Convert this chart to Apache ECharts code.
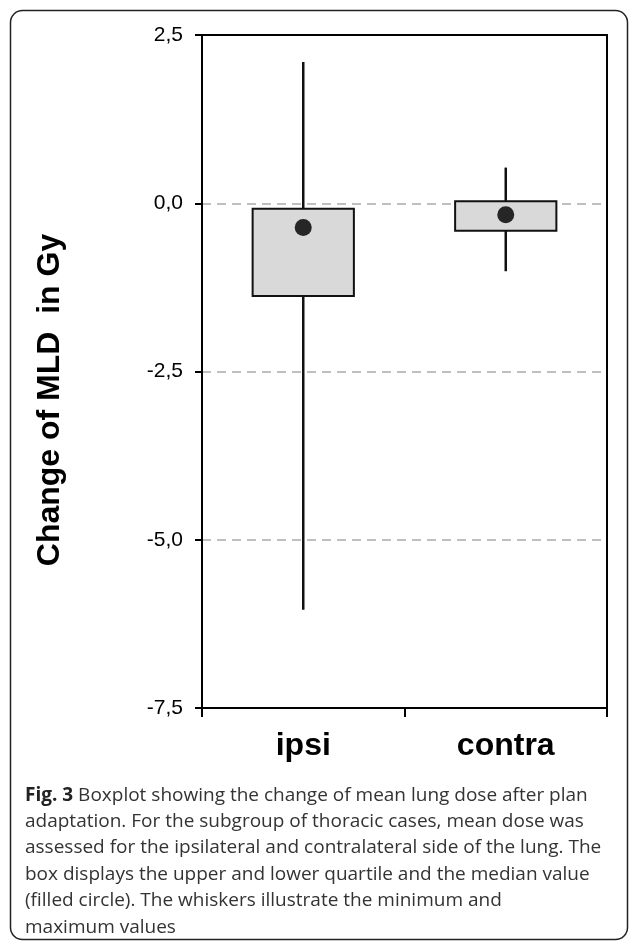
<!DOCTYPE html>
<html>
<head>
<meta charset="utf-8">
<script src="https://cdn.jsdelivr.net/npm/echarts@6/dist/echarts.min.js"></script>
<style>
  html, body { margin: 0; padding: 0; background: #fff; }
  #chart { width: 630px; height: 944px; }
</style>
</head>
<body>
<div id="chart"></div>
<script>
const categories = ['ipsi', 'contra'];
const minValues = [-6.04, -1.01];
const q1Values = [-1.38, -0.41];
const medianValues = [-0.36, -0.17];
const q3Values = [-0.08, 0.03];
const maxValues = [2.1, 0.53];
const yMin = -7.5;
const yMax = 2.5;
const yStep = 2.5;

const captionLines = [
  '{b|Fig. 3} Boxplot showing the change of mean lung dose after plan',
  'adaptation. For the subgroup of thoracic cases, mean dose was',
  'assessed for the ipsilateral and contralateral side of the lung. The',
  'box displays the upper and lower quartile and the median value',
  '(filled circle). The whiskers illustrate the minimum and',
  'maximum values'
];

const boxData = categories.map((c, i) => [i, minValues[i], q1Values[i], medianValues[i], q3Values[i], maxValues[i]]);

const chart = echarts.init(document.getElementById('chart'));

function renderBox(params, api) {
  const idx = api.value(0);
  const band = api.size([1, 0])[0];
  const half = band * 0.25;
  const pMin = api.coord([idx, api.value(1)]);
  const pQ1 = api.coord([idx, api.value(2)]);
  const pMed = api.coord([idx, api.value(3)]);
  const pQ3 = api.coord([idx, api.value(4)]);
  const pMax = api.coord([idx, api.value(5)]);
  return {
    type: 'group',
    children: [
      {
        type: 'line',
        shape: { x1: pMax[0], y1: pMax[1], x2: pMin[0], y2: pMin[1] },
        style: { stroke: '#111', lineWidth: 2.5 }
      },
      {
        type: 'rect',
        shape: { x: pQ3[0] - half, y: pQ3[1], width: half * 2, height: pQ1[1] - pQ3[1] },
        style: { fill: '#d9d9d9', stroke: '#111', lineWidth: 2 }
      },
      {
        type: 'circle',
        shape: { cx: pMed[0], cy: pMed[1], r: 8.5 },
        style: { fill: '#262626' }
      }
    ]
  };
}

const axisFont = '"Liberation Sans", Arial, sans-serif';

const option = {
  animation: false,
  title: {
    text: captionLines.join('\n'),
    left: 25,
    top: 782,
    padding: 0,
    textStyle: {
      fontFamily: '"Open Sans", "Noto Sans", sans-serif',
      fontSize: 19,
      fontWeight: 'normal',
      color: '#333',
      lineHeight: 26.4,
      rich: {
        b: {
          fontFamily: '"Open Sans", "Noto Sans", sans-serif',
          fontSize: 19,
          fontWeight: 'bold',
          color: '#222',
          lineHeight: 26.4
        }
      }
    }
  },
  graphic: [
    {
      type: 'rect',
      z: -1,
      shape: { x: 10.5, y: 10.5, width: 617, height: 929, r: 12 },
      style: { fill: 'none', stroke: '#222', lineWidth: 1.5 }
    },
    {
      type: 'text',
      x: 50,
      y: 400,
      rotation: Math.PI / 2,
      style: {
        text: 'Change of MLD  in Gy',
        font: 'bold 32px ' + axisFont,
        fill: '#000',
        align: 'center',
        verticalAlign: 'middle'
      }
    }
  ],
  grid: {
    left: 202,
    right: 23,
    top: 35,
    bottom: 236
  },
  xAxis: [
    {
      type: 'category',
      data: categories,
      position: 'bottom',
      axisLine: { onZero: false, lineStyle: { color: '#000', width: 2 } },
      axisTick: { show: true, length: 9, lineStyle: { color: '#000', width: 2 } },
      axisLabel: {
        margin: 22,
        fontFamily: axisFont,
        fontSize: 32,
        fontWeight: 'bold',
        color: '#000'
      },
      splitLine: { show: false }
    },
    {
      type: 'category',
      data: categories,
      position: 'top',
      axisLine: { onZero: false, lineStyle: { color: '#000', width: 2 } },
      axisTick: { show: false },
      axisLabel: { show: false },
      splitLine: { show: false }
    }
  ],
  yAxis: [
    {
      type: 'value',
      min: yMin,
      max: yMax,
      interval: yStep,
      position: 'left',
      axisLine: { show: true, onZero: false, lineStyle: { color: '#000', width: 2 } },
      axisTick: { show: true, length: 7, lineStyle: { color: '#000', width: 2 } },
      axisLabel: {
        margin: 19,
        fontFamily: axisFont,
        fontSize: 21,
        color: '#000',
        formatter: v => v.toFixed(1).replace('.', ',')
      },
      splitLine: {
        show: true,
        lineStyle: { color: '#aaa', width: 1.5, type: [9, 6] }
      }
    },
    {
      type: 'value',
      min: yMin,
      max: yMax,
      interval: yStep,
      position: 'right',
      axisLine: { show: true, onZero: false, lineStyle: { color: '#000', width: 2 } },
      axisTick: { show: false },
      axisLabel: { show: false },
      splitLine: { show: false }
    }
  ],
  series: [
    {
      type: 'custom',
      renderItem: renderBox,
      xAxisIndex: 0,
      yAxisIndex: 0,
      encode: { x: 0, y: [1, 2, 3, 4, 5] },
      data: boxData,
      z: 3
    }
  ]
};

chart.setOption(option);
</script>
</body>
</html>
